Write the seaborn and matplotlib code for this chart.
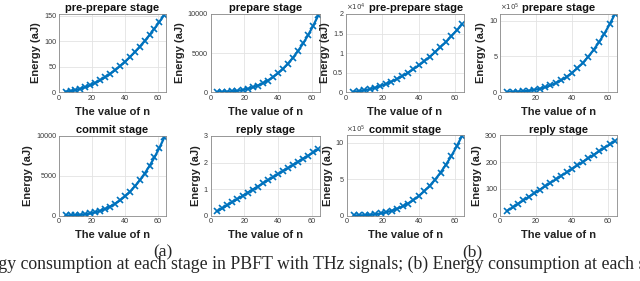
import matplotlib
matplotlib.use("Agg")
import matplotlib.pyplot as plt
import seaborn as sns
import pandas as pd

# ---------------- data ----------------
n_values = [4, 7, 10, 13, 16, 19, 22, 25, 28, 31, 34, 37, 40, 43, 46, 49, 52, 55, 58, 61, 64]

a_preprepare = [0.6, 1.8, 3.7, 6.3, 9.5, 13.4, 17.9, 23.1, 29.0, 35.6, 42.8, 50.7,
                59.2, 68.4, 78.3, 88.8, 100.0, 111.9, 124.5, 137.7, 151.6]
a_prepare = [2.4, 12.9, 37.5, 82.4, 153.6, 257.2, 399.3, 585.9, 823.2, 1117, 1474, 1899,
             2400, 2982, 3650, 4412, 5273, 6239, 7317, 8512, 9830]
a_commit = [2.4, 12.9, 37.5, 82.4, 153.6, 257.2, 399.3, 585.9, 823.2, 1117, 1474, 1899,
            2400, 2982, 3650, 4412, 5273, 6239, 7317, 8512, 9830]
a_reply = [0.16, 0.27, 0.39, 0.51, 0.62, 0.74, 0.86, 0.98, 1.09, 1.21, 1.33, 1.44,
           1.56, 1.68, 1.79, 1.91, 2.03, 2.15, 2.26, 2.38, 2.50]

b_preprepare = [68, 208, 425, 718, 1088, 1534, 2057, 2656, 3332, 4084, 4913, 5818,
                6800, 7858, 8993, 10204, 11492, 12856, 14297, 15814, 17408]
b_prepare = [269, 1439, 4196, 9219, 17187, 28780, 44679, 65563, 92110, 125003, 164920,
             212540, 268544, 333611, 408422, 493655, 589992, 698110, 818690, 952412, 1099964]
b_commit = [269, 1439, 4196, 9219, 17187, 28780, 44679, 65563, 92110, 125003, 164920,
            212540, 268544, 333611, 408422, 493655, 589992, 698110, 818690, 952412, 1099964]
b_reply = [17.5, 30.6, 43.8, 56.9, 70.0, 83.1, 96.3, 109.4, 122.5, 135.6, 148.8, 161.9,
           175.0, 188.1, 201.3, 214.4, 227.5, 240.6, 253.8, 266.9, 280.0]

titles = ["pre-prepare stage", "prepare stage", "commit stage", "reply stage"]
x_ticks = [0, 20, 40, 60]
x_tick_labels = ["0", "20", "40", "60"]

# ---------------- style ----------------
sns.set_theme(style="whitegrid")
plt.rcParams["font.family"] = ["Liberation Sans", "DejaVu Sans"]

BLUE = "#0072BD"
TICK_C = "#3a3a3a"
SPINE_C = "#8a8a8a"

fig = plt.figure(figsize=(6.40, 2.81), dpi=100)
W, H = 640.0, 281.0


def add_axes(left, right, top, bottom):
    return fig.add_axes([left / W, 1 - bottom / H, (right - left) / W, (bottom - top) / H])


def panel(ax, y, title, ylim, yticks, ytlabels, offset=None, title_x=0.5):
    df = pd.DataFrame({"n": n_values, "E": y})
    sns.lineplot(data=df, x="n", y="E", ax=ax, color=BLUE, linewidth=1.6,
                 marker="x", markersize=4.2, markeredgewidth=1.2, markeredgecolor=BLUE)
    ax.set_xlim(0, 65)
    ax.set_ylim(*ylim)
    ax.set_xticks(x_ticks)
    ax.set_xticklabels(x_tick_labels)
    ax.set_yticks(yticks)
    ax.set_yticklabels(ytlabels)
    ax.tick_params(axis="both", labelsize=5.2, colors=TICK_C, direction="in",
                   length=2, width=0.5, pad=2)
    ax.grid(True, color="#e3e3e3", linewidth=0.6)
    for s in ax.spines.values():
        s.set_visible(True)
        s.set_color(SPINE_C)
        s.set_linewidth(0.6)
    ax.set_facecolor("white")
    ax.set_title(title, fontsize=8, fontweight="bold", pad=2, x=title_x, color="#111111")
    ax.set_xlabel("The value of n", fontsize=8, fontweight="bold", labelpad=3.5, color="#222222")
    ax.set_ylabel("Energy (aJ)", fontsize=8, fontweight="bold", labelpad=2, color="#222222")
    if offset is not None:
        ax.text(0.0, 1.01, r"$\times10^{%d}$" % offset, transform=ax.transAxes,
                fontsize=5, color=TICK_C, ha="left", va="bottom")


# row 1
ax = add_axes(59, 166, 14, 92)
panel(ax, a_preprepare, titles[0], (0, 153), [0, 50, 100, 150], ["0", "50", "100", "150"])
ax = add_axes(210.5, 320, 14, 92)
panel(ax, a_prepare, titles[1], (0, 10000), [0, 5000, 10000], ["0", "5000", "10000"])
ax = add_axes(346, 464, 14, 92)
panel(ax, b_preprepare, titles[0], (0, 20000), [0, 5000, 10000, 15000, 20000],
      ["0", "0.5", "1", "1.5", "2"], offset=4, title_x=0.59)
ax = add_axes(500, 617, 13.5, 92)
panel(ax, b_prepare, titles[1], (0, 1.1e6), [0, 5e5, 1e6], ["0", "5", "10"], offset=5)

# row 2
ax = add_axes(59, 166, 136, 215.5)
panel(ax, a_commit, titles[2], (0, 10000), [0, 5000, 10000], ["0", "5000", "10000"])
ax = add_axes(210.5, 320, 136, 215.5)
panel(ax, a_reply, titles[3], (0, 3), [0, 1, 2, 3], ["0", "1", "2", "3"])
ax = add_axes(346.5, 464, 135.5, 215.5)
panel(ax, b_commit, titles[2], (0, 1.1e6), [0, 5e5, 1e6], ["0", "5", "10"], offset=5)
ax = add_axes(500, 617, 135.5, 215.5)
panel(ax, b_reply, titles[3], (0, 300), [0, 100, 200, 300], ["0", "100", "200", "300"])

# sub-figure labels and caption (serif, as in the paper)
serif = ["Liberation Serif", "DejaVu Serif"]
fig.text(163 / W, 1 - 252 / H, "(a)", family=serif, fontsize=12.5, ha="center", va="center")
fig.text(472 / W, 1 - 252 / H, "(b)", family=serif, fontsize=12.5, ha="center", va="center")
fig.text(308.5 / W, 1 - 268.5 / H, "(a) Energy consumption at each stage in PBFT with",
         family=serif, fontsize=12.8, ha="right", va="baseline")
fig.text(313 / W, 1 - 268.5 / H, "THz signals; (b) Energy consumption at each stage in PBFT",
         family=serif, fontsize=12.8, ha="left", va="baseline")

fig.savefig("out.png", dpi=100, facecolor="white")
